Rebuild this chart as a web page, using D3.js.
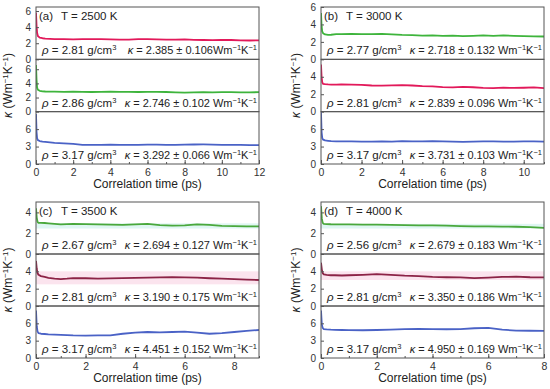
<!DOCTYPE html>
<html>
<head>
<meta charset="utf-8">
<script src="https://cdn.jsdelivr.net/npm/d3@7"></script>
<style>
  html, body { margin: 0; padding: 0; background: #fff; }
  svg { display: block; font-family: "Liberation Sans", Arial, sans-serif; }
  .tick text { fill: #333; font-size: 10.5px; }
  .tick line { stroke: #555; }
</style>
</head>
<body>
<script>
// Correlation time grids (ps)
const timeA = [0, 0.03, 0.06, 0.1, 0.2, 0.35, 0.5, 0.75, 1, 1.5, 2, 2.5, 3, 3.5, 4, 4.5, 5, 5.5, 6, 6.5, 7, 7.5, 8, 8.5, 9, 9.5, 10, 10.5, 11, 11.5, 12];
const timeB = [0, 0.03, 0.06, 0.1, 0.2, 0.35, 0.5, 0.75, 1, 1.5, 2, 2.5, 3, 3.5, 4, 4.5, 5, 5.5, 6, 6.5, 7, 7.5, 8, 8.5, 9, 9.5, 10, 10.5, 11];
const timeC = [0, 0.03, 0.06, 0.1, 0.2, 0.35, 0.5, 0.75, 1, 1.25, 1.5, 2, 2.5, 3, 3.5, 4, 4.5, 5, 5.5, 6, 6.5, 7, 7.5, 8, 8.5, 9];
const timeD = [0, 0.03, 0.06, 0.1, 0.2, 0.35, 0.5, 0.75, 1, 1.5, 2, 2.5, 3, 3.5, 4, 4.5, 5, 5.5, 6, 6.5, 7, 7.5, 8];

// Thermal conductivity curves (W m^-1 K^-1)
const kappaA1 = [5.8, 4.2, 3.3, 2.9, 2.7, 2.62, 2.58, 2.55, 2.52, 2.5, 2.48, 2.5, 2.52, 2.5, 2.47, 2.45, 2.46, 2.5, 2.52, 2.48, 2.44, 2.45, 2.47, 2.42, 2.4, 2.38, 2.42, 2.4, 2.36, 2.34, 2.35];
const kappaA2 = [6.6, 4.5, 3.4, 3.1, 2.95, 2.88, 2.85, 2.83, 2.82, 2.8, 2.82, 2.8, 2.78, 2.8, 2.82, 2.8, 2.8, 2.78, 2.8, 2.8, 2.78, 2.74, 2.68, 2.72, 2.75, 2.74, 2.76, 2.75, 2.72, 2.74, 2.75];
const kappaA3 = [8.6, 5.5, 4.4, 4.1, 3.95, 3.85, 3.8, 3.72, 3.65, 3.55, 3.45, 3.3, 3.28, 3.3, 3.32, 3.3, 3.28, 3.3, 3.32, 3.34, 3.3, 3.28, 3.32, 3.35, 3.36, 3.34, 3.3, 3.28, 3.3, 3.26, 3.24];

const kappaB1 = [5.3, 3.8, 3.2, 3.0, 2.85, 2.8, 2.82, 2.88, 2.9, 2.92, 2.88, 2.9, 2.92, 2.86, 2.8, 2.78, 2.72, 2.75, 2.7, 2.72, 2.65, 2.7, 2.75, 2.68, 2.74, 2.7, 2.66, 2.64, 2.62];
const kappaB2 = [5.4, 4.0, 3.4, 3.2, 3.15, 3.12, 3.1, 3.1, 3.12, 3.1, 3.08, 3.0, 2.98, 3.02, 3.05, 3.0, 2.92, 2.9, 2.82, 2.78, 2.85, 2.8, 2.72, 2.7, 2.75, 2.72, 2.74, 2.78, 2.7];
const kappaB3 = [8.9, 5.5, 4.5, 4.2, 4.05, 3.98, 3.92, 3.9, 3.88, 3.9, 3.86, 3.84, 3.88, 3.86, 3.92, 3.88, 3.9, 3.95, 3.88, 3.84, 3.82, 3.86, 3.88, 3.9, 3.86, 3.84, 3.88, 3.9, 3.86];

const kappaC1 = [4.4, 3.5, 3.1, 3.0, 3.0, 2.98, 2.95, 2.9, 2.85, 2.88, 2.9, 2.88, 2.85, 2.82, 2.8, 2.85, 2.9, 2.78, 2.72, 2.75, 2.85, 2.8, 2.7, 2.68, 2.65, 2.65];
const kappaC2 = [5.2, 4.3, 3.8, 3.6, 3.45, 3.35, 3.25, 3.15, 3.1, 3.15, 3.22, 3.2, 3.15, 3.18, 3.22, 3.25, 3.28, 3.3, 3.32, 3.3, 3.28, 3.2, 3.15, 3.1, 3.05, 3.0];
const kappaC3 = [8.2, 5.5, 4.6, 4.3, 4.2, 4.15, 4.1, 4.05, 4.0, 3.95, 3.9, 3.88, 3.9, 3.92, 4.2, 4.4, 4.5, 4.45, 4.5, 4.55, 4.4, 4.2, 4.3, 4.5, 4.7, 4.85];

const kappaD1 = [4.6, 3.4, 3.0, 2.9, 2.88, 2.86, 2.85, 2.84, 2.85, 2.83, 2.82, 2.8, 2.78, 2.76, 2.75, 2.72, 2.68, 2.66, 2.65, 2.64, 2.62, 2.58, 2.52];
const kappaD2 = [5.0, 4.2, 3.8, 3.65, 3.6, 3.55, 3.55, 3.52, 3.55, 3.6, 3.68, 3.6, 3.5, 3.45, 3.35, 3.32, 3.3, 3.22, 3.28, 3.35, 3.38, 3.32, 3.3];
const kappaD3 = [8.2, 5.8, 5.2, 5.0, 4.95, 4.9, 4.88, 4.85, 4.82, 4.8, 4.85, 4.9, 5.0, 5.05, 5.0, 4.98, 5.0, 5.15, 5.2, 4.9, 4.75, 4.72, 4.7];

// Faint uncertainty bands in panels (c) and (d): [low, high] per band
const bandC1 = [2.45, 2.95];
const bandC2 = [2.5, 4.0];
const bandD1 = [2.45, 2.9];
const bandD2 = [3.0, 4.0];

// Labels
const panelTags = ['(a)', '(b)', '(c)', '(d)'];
const temperatures = ['T = 2500 K', 'T = 3000 K', 'T = 3500 K', 'T = 4000 K'];
const densities = [['2.81', '2.86', '3.17'], ['2.77', '2.81', '3.17'], ['2.67', '2.81', '3.17'], ['2.56', '2.81', '3.17']];
const kappaMeans = [['2.385', '2.746', '3.292'], ['2.718', '2.839', '3.731'], ['2.694', '3.190', '4.451'], ['2.679', '3.350', '4.950']];
const kappaErrors = [['0.106', '0.102', '0.066'], ['0.132', '0.096', '0.103'], ['0.127', '0.175', '0.152'], ['0.183', '0.186', '0.169']];

// Axis ranges and ticks
const xMaxes = [12, 11, 9, 8];
const xTicksA = [0, 2, 4, 6, 8, 10, 12];
const xTicksB = [0, 2, 4, 6, 8, 10];
const xTicksC = [0, 2, 4, 6, 8];
const xTicksD = [0, 2, 4, 6, 8];
const yMaxes = [[6.5, 7.4, 9], [6, 6, 9], [5, 6, 9], [5, 6, 9]];
const yTicks = [[[0, 2, 4, 6], [0, 2, 4, 6], [0, 3, 6]], [[0, 2, 4, 6], [0, 2, 4], [0, 3, 6]], [[0, 2, 4], [0, 2, 4], [0, 3, 6]], [[0, 2, 4], [0, 2, 4], [0, 3, 6]]];

// Colours
const RED = '#e2195a';
const GREEN = '#3eb43c';
const BLUE = '#4a62c6';
const MAROON = '#8c2346';
const GREEN2 = '#4aa83c';

const panels = [
  { col: 0, row: 0, t: timeA, ys: [kappaA1, kappaA2, kappaA3], colors: [RED, GREEN, BLUE], xt: xTicksA, bands: [null, null, null] },
  { col: 1, row: 0, t: timeB, ys: [kappaB1, kappaB2, kappaB3], colors: [GREEN, RED, BLUE], xt: xTicksB, bands: [null, null, null] },
  { col: 0, row: 1, t: timeC, ys: [kappaC1, kappaC2, kappaC3], colors: [GREEN2, MAROON, BLUE], xt: xTicksC, bands: [bandC1, bandC2, null] },
  { col: 1, row: 1, t: timeD, ys: [kappaD1, kappaD2, kappaD3], colors: [GREEN2, MAROON, BLUE], xt: xTicksD, bands: [bandD1, bandD2, null] },
];
const bandFills = ['#dff6f3', '#fbe4ee'];

const COLS = [{ x0: 36, x1: 259, yt: 24 }, { x0: 321, x1: 544, yt: 21 }];
const ROWS = [{ y0: 7, y1: 164 }, { y0: 202, y1: 358 }];

const svg = d3.select('body').append('svg').attr('width', 550).attr('height', 389);

// Superscript helper for unit text
function addUnit(text, before) {
  text.append('tspan').text(before + 'Wm');
  text.append('tspan').attr('dy', -4).attr('font-size', '7.5px').text('−1');
  text.append('tspan').attr('dy', 4).text('K');
  text.append('tspan').attr('dy', -4).attr('font-size', '7.5px').text('−1');
}

panels.forEach((p, i) => {
  const { x0, x1 } = COLS[p.col];
  const { y0, y1 } = ROWS[p.row];
  const h = (y1 - y0) / 3;
  const x = d3.scaleLinear([0, xMaxes[i]], [x0, x1]);
  const g = svg.append('g');

  for (let k = 0; k < 3; k++) {
    const sy0 = y0 + k * h;
    const sy1 = sy0 + h;
    const y = d3.scaleLinear([0, yMaxes[i][k]], [sy1, sy0]);
    const clipId = `clip-${i}-${k}`;
    svg.append('clipPath').attr('id', clipId)
      .append('rect').attr('x', x0).attr('y', sy0).attr('width', x1 - x0).attr('height', h);

    const sub = g.append('g').attr('clip-path', `url(#${clipId})`);

    // error band
    const band = p.bands[k];
    if (band) {
      sub.append('rect')
        .attr('x', x(0)).attr('width', x(xMaxes[i]) - x(0))
        .attr('y', y(band[1])).attr('height', y(band[0]) - y(band[1]))
        .attr('fill', bandFills[k]);
    }

    const data = p.t.map((t, j) => [t, p.ys[k][j]]);
    sub.append('path')
      .datum(data)
      .attr('fill', 'none')
      .attr('stroke', p.colors[k])
      .attr('stroke-width', 1.8)
      .attr('stroke-linejoin', 'round')
      .attr('d', d3.line().x(d => x(d[0])).y(d => y(d[1])));

    // y axis
    const ya = g.append('g')
      .attr('transform', `translate(${x0},0)`)
      .call(d3.axisLeft(y).tickValues(yTicks[i][k]).tickFormat(d3.format('d')).tickSize(-3).tickPadding(5));
    ya.select('.domain').remove();
    ya.selectAll('.tick text').style('font-size', '10px');

    // annotations
    g.append('text')
      .attr('x', x0 + 6).attr('y', sy1 - 5)
      .attr('font-size', '11.5px').attr('fill', '#222')
      .call(t => {
        t.append('tspan').attr('font-style', 'italic').text('ρ');
        t.append('tspan').text(` = ${densities[i][k]} g/cm`);
        t.append('tspan').attr('dy', -4).attr('font-size', '7.5px').text('3');
      });
    const kt = g.append('text')
      .attr('x', x1 - 2).attr('y', sy1 - 5)
      .attr('font-size', '11px').attr('fill', '#222')
      .attr('text-anchor', 'end');
    kt.append('tspan').attr('font-style', 'italic').text('κ');
    kt.append('tspan').text(` = ${kappaMeans[i][k]} ± ${kappaErrors[i][k]}`);
    addUnit(kt, i === 0 && k === 0 ? '' : ' ');

    // subplot frame
    g.append('rect')
      .attr('x', x0).attr('y', sy0).attr('width', x1 - x0).attr('height', h)
      .attr('fill', 'none').attr('stroke', '#555').attr('stroke-width', 1);
  }

  // x axis: minor + major inward ticks
  const minor = d3.range(0, xMaxes[i] + 0.001, 1);
  const xm = g.append('g').attr('transform', `translate(0,${y1})`)
    .call(d3.axisBottom(x).tickValues(minor).tickSize(-2).tickFormat(''));
  xm.select('.domain').remove();
  const xa = g.append('g').attr('transform', `translate(0,${y1})`)
    .call(d3.axisBottom(x).tickValues(p.xt).tickSize(-4).tickPadding(5));
  xa.select('.domain').remove();

  g.append('text')
    .attr('x', (x0 + x1) / 2).attr('y', y1 + 24)
    .attr('text-anchor', 'middle').attr('font-size', '12px').attr('fill', '#222')
    .text('Correlation time (ps)');

  // y title
  const yt = g.append('text')
    .attr('transform', `translate(${x0 - COLS[p.col].yt},${(y0 + y1) / 2}) rotate(-90)`)
    .attr('text-anchor', 'middle').attr('font-size', '12px').attr('fill', '#222');
  yt.append('tspan').attr('font-style', 'italic').text('κ');
  yt.append('tspan').text(' (Wm');
  yt.append('tspan').attr('dy', -4).attr('font-size', '8px').text('−1');
  yt.append('tspan').attr('dy', 4).text('K');
  yt.append('tspan').attr('dy', -4).attr('font-size', '8px').text('−1');
  yt.append('tspan').attr('dy', 4).text(')');

  // panel tag and temperature
  g.append('text').attr('x', x0 + 3).attr('y', y0 + 13)
    .attr('font-size', '11.5px').attr('fill', '#222').text(panelTags[i]);
  g.append('text').attr('x', x0 + 25).attr('y', y0 + 13)
    .attr('font-size', '11.5px').attr('fill', '#222').text(temperatures[i]);
});
</script>
</body>
</html>
